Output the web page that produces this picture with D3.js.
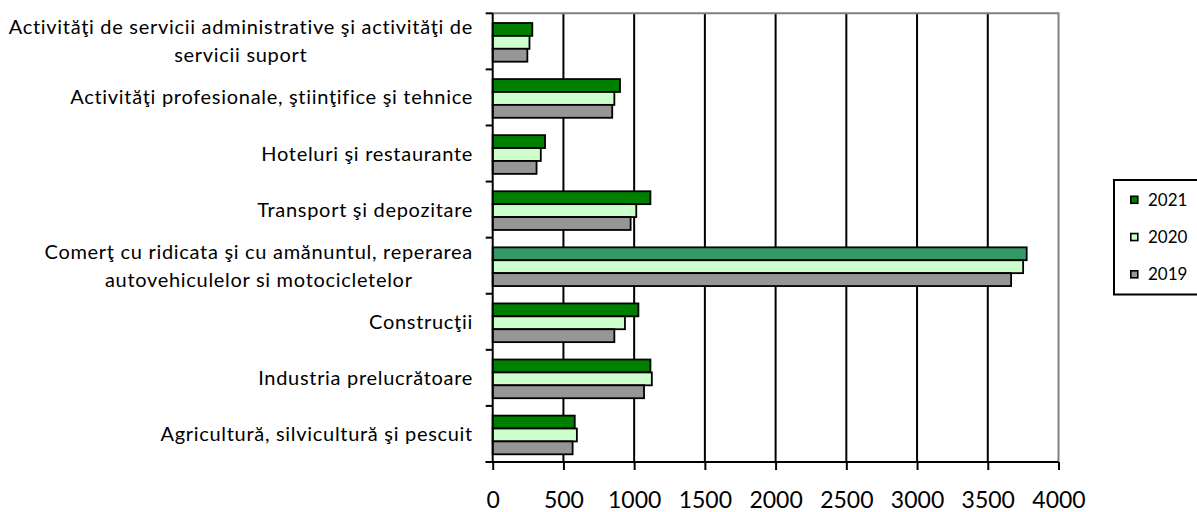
<!DOCTYPE html>
<html>
<head>
<meta charset="utf-8">
<script src="https://cdn.jsdelivr.net/npm/d3@7"></script>
<style>
  html, body { margin: 0; padding: 0; background: #fff; }
  svg { display: block; }
  text { font-family: Lato, "Open Sans", sans-serif; fill: #000; }
</style>
</head>
<body>
<svg id="chart" width="1197" height="512"></svg>
<script>
// Sectors, top to bottom; each entry is the wrapped lines of its label
const categories = [
  ["Activităţi de servicii administrative şi activităţi de", "servicii suport"],
  ["Activităţi profesionale, ştiinţifice şi tehnice"],
  ["Hoteluri şi restaurante"],
  ["Transport şi depozitare"],
  ["Comerţ cu ridicata şi cu amănuntul, reperarea", "autovehiculelor si motocicletelor"],
  ["Construcţii"],
  ["Industria prelucrătoare"],
  ["Agricultură, silvicultură şi pescuit"]
];
const years = ["2021", "2020", "2019"];
const values2021 = [280, 900, 370, 1115, 3775, 1030, 1115, 580];
const values2020 = [260, 860, 340, 1015, 3750, 935, 1125, 595];
const values2019 = [245, 845, 310, 975, 3665, 860, 1070, 565];
const xTicks = [0, 500, 1000, 1500, 2000, 2500, 3000, 3500, 4000];

const seriesValues = [values2021, values2020, values2019];
const fills = { "2021": "#008000", "2020": "#ccffcc", "2019": "#969696" };
const highlightFill = "#339966"; // the largest sector's 2021 bar

const svg = d3.select("#chart");
const plotL = 492.7, plotR = 1058.5, plotT = 13.3, plotB = 462;

const x = d3.scaleLinear().domain([0, 4000]).range([plotL, plotR]);
const y0 = d3.scaleBand().domain(d3.range(categories.length)).range([plotT, plotB])
  .paddingInner(0.31).paddingOuter(0.155);
const y1 = d3.scaleBand().domain(years).range([0, y0.bandwidth()]);
const step = y0.step();

// vertical gridlines
svg.append("g").selectAll("line")
  .data(xTicks.slice(1, -1))
  .join("line")
  .attr("x1", d => x(d)).attr("x2", d => x(d))
  .attr("y1", plotT).attr("y2", plotB)
  .attr("stroke", "#000").attr("stroke-width", 2);

// plot frame: grey top and right edges
svg.append("path")
  .attr("d", `M${plotL},${plotT}H${plotR}V${plotB}`)
  .attr("fill", "none").attr("stroke", "#808080").attr("stroke-width", 2);

// bars
const rows = [];
categories.forEach((c, i) => {
  years.forEach((yr, k) => rows.push({ i, yr, k, v: seriesValues[k][i] }));
});
svg.append("g").selectAll("rect")
  .data(rows)
  .join("rect")
  .attr("x", x(0))
  .attr("y", d => y0(d.i) + y1(d.yr) + 1)
  .attr("width", d => x(d.v) - x(0))
  .attr("height", y1.bandwidth())
  .attr("fill", d => (d.yr === "2021" && d.i === 4) ? highlightFill : fills[d.yr])
  .attr("stroke", "#000").attr("stroke-width", 1.8);

// left axis with ticks at category boundaries
const yAxis = svg.append("g");
yAxis.append("line")
  .attr("x1", plotL).attr("x2", plotL).attr("y1", plotT).attr("y2", plotB)
  .attr("stroke", "#000").attr("stroke-width", 2);
yAxis.selectAll("line.tick")
  .data(d3.range(categories.length + 1))
  .join("line").attr("class", "tick")
  .attr("x1", plotL - 7).attr("x2", plotL)
  .attr("y1", d => plotT + d * step).attr("y2", d => plotT + d * step)
  .attr("stroke", "#000").attr("stroke-width", 2);

// bottom axis
const xAxis = svg.append("g").attr("transform", `translate(0,${plotB})`)
  .call(d3.axisBottom(x).tickValues(xTicks).tickSize(8).tickSizeOuter(0).tickFormat(d3.format("d")));
xAxis.select(".domain").remove();
xAxis.append("line").attr("x1", plotL - 7).attr("x2", plotR).attr("y1", 0).attr("y2", 0)
  .attr("stroke", "#000").attr("stroke-width", 2);
xAxis.selectAll(".tick line").attr("stroke", "#000").attr("stroke-width", 2);
xAxis.selectAll(".tick text")
  .attr("y", 0).attr("dy", null)
  .attr("transform", "translate(0,46)")
  .style("font-family", "Lato, 'Open Sans', sans-serif")
  .style("font-size", "23px").attr("fill", "#000");

// category labels, each block centred on itself and right-aligned to the axis
const labelRight = 473, lineH = 28;
const labels = svg.append("g").style("font-size", "20px").style("letter-spacing", "0.7px");
categories.forEach((lines, i) => {
  const cy = plotT + (i + 0.5) * step;
  const g = labels.append("g");
  const ts = g.selectAll("text").data(lines).join("text")
    .attr("text-anchor", "middle")
    .attr("y", (d, j) => cy + (j - (lines.length - 1) / 2) * lineH)
    .attr("dy", "0.35em")
    .text(d => d);
  const w = d3.max(ts.nodes(), n => n.getComputedTextLength());
  ts.attr("x", labelRight - w / 2);
});

// legend
const legend = svg.append("g");
legend.append("rect")
  .attr("x", 1114).attr("y", 180).attr("width", 90).attr("height", 114.5)
  .attr("fill", "#fff").attr("stroke", "#000").attr("stroke-width", 2);
const ly = d3.scalePoint().domain(years).range([200, 274.5]);
const items = legend.selectAll("g.item").data(years).join("g").attr("class", "item")
  .attr("transform", d => `translate(1130,${ly(d)})`);
items.append("rect")
  .attr("x", 0.8).attr("y", -3.7).attr("width", 7).attr("height", 7)
  .attr("fill", d => fills[d]).attr("stroke", "#000").attr("stroke-width", 1.6);
items.append("text")
  .attr("x", 18).attr("dy", "0.35em")
  .style("font-size", "17px")
  .text(d => d);
</script>
</body>
</html>
